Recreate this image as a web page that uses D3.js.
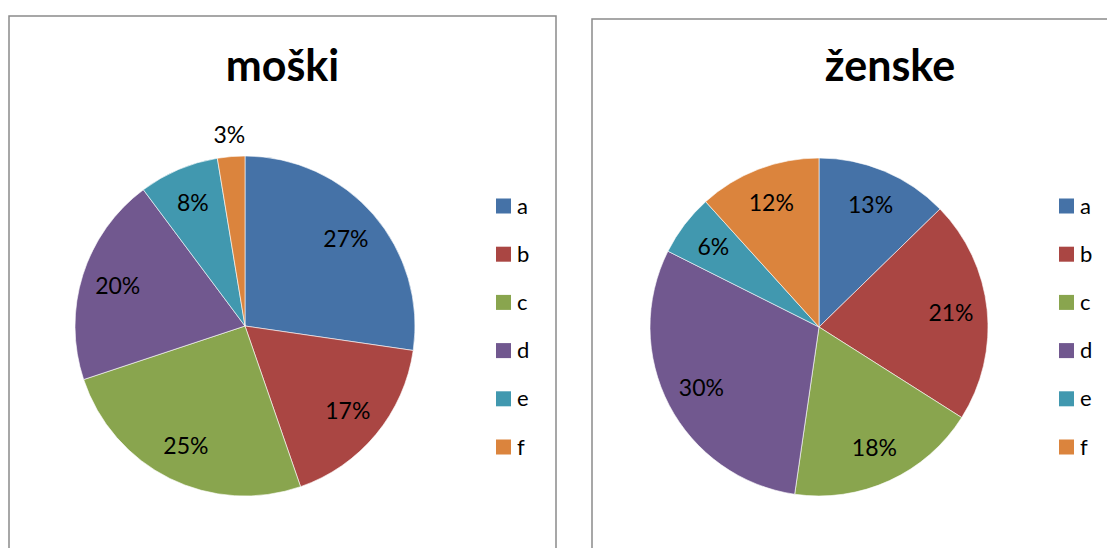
<!DOCTYPE html>
<html>
<head>
<meta charset="utf-8">
<script src="https://cdn.jsdelivr.net/npm/d3@7"></script>
<style>
  body { margin: 0; background: #fff; }
  text { font-family: Lato, "Open Sans", sans-serif; fill: #000; }
</style>
</head>
<body>
<div id="chartVis"></div>
<script>
  // data
  const categories = ["a", "b", "c", "d", "e", "f"];
  const moskiValues = [27.3, 17.4, 25.2, 19.9, 7.6, 2.6];
  const zenskeValues = [12.7, 21.3, 18.3, 30.1, 5.9, 11.7];
  const titles = ["moški", "ženske"];
  const colors = ["#4572A7", "#AA4643", "#89A54E", "#71588F", "#4198AF", "#DB843D"];

  var width = 1107;
  var height = 548;

  var svg = d3.select("#chartVis")
    .append("svg")
    .attr("width", width)
    .attr("height", height);

  var color = d3.scaleOrdinal().domain(categories).range(colors);

  // one panel per chart
  var panels = [
    { title: titles[0], values: moskiValues, box: [9, 16, 547, 560], cx: 245, cy: 326, r: 170, titleX: 282.5, legendX: 496 },
    { title: titles[1], values: zenskeValues, box: [592, 19, 560, 560], cx: 819, cy: 327, r: 169, titleX: 890, legendX: 1059 }
  ];

  panels.forEach(function(p) { createPanel(p); });

  function createPanel(p) {
    var g = svg.append("g");

    g.append("rect")
      .attr("x", p.box[0])
      .attr("y", p.box[1])
      .attr("width", p.box[2])
      .attr("height", p.box[3])
      .attr("fill", "#fff")
      .attr("stroke", "#8a8a8a")
      .attr("stroke-width", 1.5);

    g.append("text")
      .attr("x", p.titleX)
      .attr("y", 81)
      .attr("text-anchor", "middle")
      .attr("font-size", 43)
      .attr("font-weight", "bold")
      .text(p.title);

    var rows = categories.map((c, i) => ({ cat: c, value: p.values[i] }));
    var total = d3.sum(rows, d => d.value);

    var pie = d3.pie().sort(null).value(d => d.value);
    var arcs = pie(rows);

    var arc = d3.arc().innerRadius(0).outerRadius(p.r);
    var labelArc = d3.arc().innerRadius(p.r * 0.785).outerRadius(p.r * 0.785);
    var outerArc = d3.arc().innerRadius(p.r + 22).outerRadius(p.r + 22);

    var pieG = g.append("g")
      .attr("transform", "translate(" + p.cx + "," + p.cy + ")");

    pieG.selectAll("path")
      .data(arcs).enter()
      .append("path")
      .attr("d", arc)
      .attr("fill", d => color(d.data.cat))
      .attr("stroke", "#fff")
      .attr("stroke-width", 0.6);

    pieG.selectAll("text")
      .data(arcs).enter()
      .append("text")
      .attr("transform", (d) => {
        var pct = d.data.value / total * 100;
        var c = pct < 4 ? outerArc.centroid(d) : labelArc.centroid(d);
        return "translate(" + c[0] + "," + c[1] + ")";
      })
      .attr("dy", "0.35em")
      .attr("text-anchor", "middle")
      .attr("font-size", 23)
      .text(d => Math.round(d.data.value / total * 100) + "%");

    // legend
    var legendY = d3.scalePoint().domain(categories).range([206, 447]);

    var leg = g.append("g").selectAll("g")
      .data(categories).enter()
      .append("g")
      .attr("transform", d => "translate(" + p.legendX + "," + legendY(d) + ")");

    leg.append("rect")
      .attr("x", 0)
      .attr("y", -7.5)
      .attr("width", 15)
      .attr("height", 15)
      .attr("fill", d => color(d));

    leg.append("text")
      .attr("x", 21)
      .attr("y", 7.5)
      .attr("font-size", 22)
      .text(d => d);
  }
</script>
</body>
</html>
